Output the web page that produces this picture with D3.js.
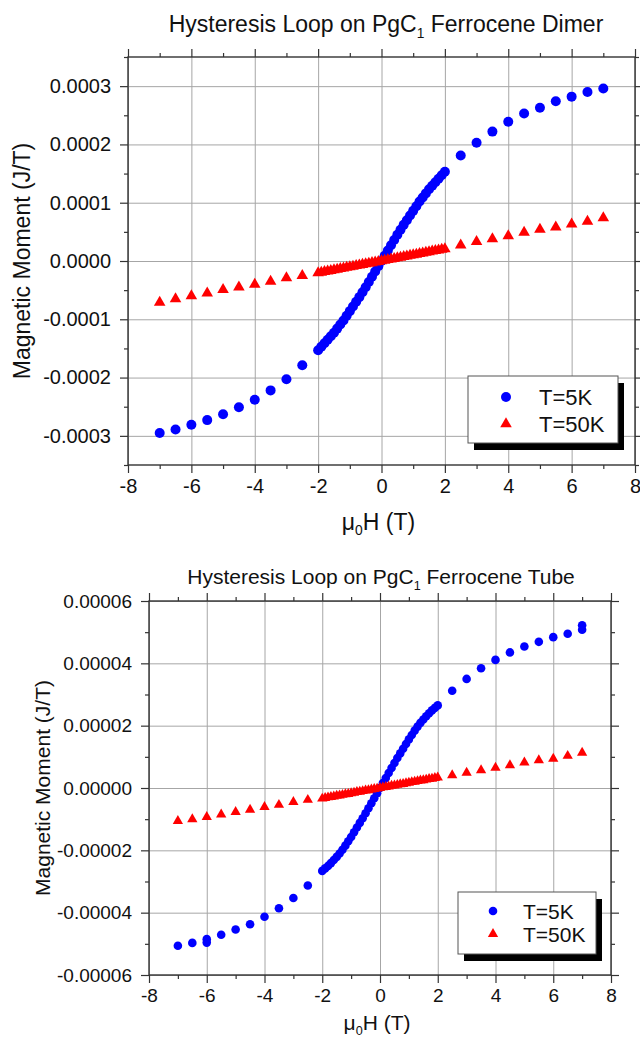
<!DOCTYPE html>
<html lang="en">
<head>
<meta charset="UTF-8" />
<title>Hysteresis Loops</title>
<script src="https://cdn.jsdelivr.net/npm/d3@7"></script>
<style>
  body { margin: 0; background: #fff; }
  svg text { font-family: "Liberation Sans", Arial, sans-serif; fill: #111; }
</style>
</head>
<body>
<script>
  // applied field values (T)
  const fieldSparseNeg = [-7, -6.5, -6, -5.5, -5, -4.5, -4, -3.5, -3, -2.5];
  const fieldDense = [-2, -1.9, -1.8, -1.7, -1.6, -1.5, -1.4, -1.3, -1.2, -1.1, -1, -0.9, -0.8, -0.7, -0.6, -0.5, -0.4, -0.3, -0.2, -0.1,
                      0, 0.1, 0.2, 0.3, 0.4, 0.5, 0.6, 0.7, 0.8, 0.9, 1, 1.1, 1.2, 1.3, 1.4, 1.5, 1.6, 1.7, 1.8, 1.9, 2];
  const fieldSparsePos = [2.5, 3, 3.5, 4, 4.5, 5, 5.5, 6, 6.5, 7];
  // the tube 5K run has two readings at -6 T and at 7 T
  const tubeField5KNeg = [-7, -6.5, -6, -6, -5.5, -5, -4.5, -4, -3.5, -3, -2.5];
  const tubeField5KPos = [2.5, 3, 3.5, 4, 4.5, 5, 5.5, 6, 6.5, 7, 7];

  // dimer, moment in units of 1e-4 J/T
  const dimer5KNeg = [-2.95, -2.89, -2.81, -2.73, -2.63, -2.51, -2.38, -2.22, -2.03, -1.79];
  const dimer5KDense = [-1.53, -1.47, -1.41, -1.35, -1.29, -1.23, -1.16, -1.09, -1.02, -0.94, -0.86, -0.78, -0.70, -0.62, -0.535, -0.45, -0.36, -0.27, -0.18, -0.09,
                        0, 0.09, 0.18, 0.27, 0.36, 0.45, 0.535, 0.62, 0.70, 0.78, 0.86, 0.94, 1.02, 1.09, 1.16, 1.23, 1.29, 1.35, 1.41, 1.47, 1.53];
  const dimer5KPos = [1.81, 2.03, 2.22, 2.39, 2.53, 2.63, 2.74, 2.82, 2.90, 2.96];

  const dimer50KNeg = [-0.71, -0.65, -0.60, -0.55, -0.49, -0.45, -0.40, -0.35, -0.29, -0.25];
  const dimer50KDense = [-0.205, -0.195, -0.184, -0.174, -0.164, -0.153, -0.143, -0.133, -0.122, -0.112, -0.102, -0.092, -0.082, -0.071, -0.061, -0.051, -0.041, -0.031, -0.020, -0.010,
                         0, 0.010, 0.021, 0.031, 0.041, 0.052, 0.062, 0.073, 0.083, 0.094, 0.104, 0.114, 0.125, 0.135, 0.146, 0.156, 0.167, 0.177, 0.187, 0.198, 0.208];
  const dimer50KPos = [0.27, 0.33, 0.38, 0.43, 0.49, 0.54, 0.58, 0.63, 0.68, 0.74];

  // tube, moment in units of 1e-5 J/T
  const tube5KNeg = [-5.06, -4.97, -4.85, -4.96, -4.71, -4.54, -4.37, -4.13, -3.86, -3.53, -3.13];
  const tube5KDense = [-2.66, -2.58, -2.50, -2.41, -2.31, -2.21, -2.10, -1.98, -1.85, -1.71, -1.57, -1.42, -1.27, -1.12, -0.97, -0.81, -0.65, -0.49, -0.33, -0.17,
                       0, 0.16, 0.32, 0.48, 0.64, 0.80, 0.96, 1.11, 1.26, 1.41, 1.56, 1.70, 1.84, 1.97, 2.09, 2.20, 2.30, 2.40, 2.49, 2.57, 2.65];
  const tube5KPos = [3.12, 3.50, 3.84, 4.11, 4.35, 4.54, 4.69, 4.84, 4.95, 5.08, 5.22];

  const tube50KNeg = [-1.06, -1.00, -0.93, -0.85, -0.77, -0.70, -0.61, -0.54, -0.45, -0.38];
  const tube50KDense = [-0.34, -0.32, -0.30, -0.29, -0.27, -0.25, -0.24, -0.22, -0.20, -0.19, -0.17, -0.15, -0.13, -0.12, -0.10, -0.08, -0.07, -0.05, -0.03, -0.02,
                        0, 0.02, 0.03, 0.05, 0.07, 0.08, 0.10, 0.12, 0.13, 0.15, 0.17, 0.19, 0.20, 0.22, 0.24, 0.25, 0.27, 0.29, 0.30, 0.32, 0.34];
  const tube50KPos = [0.41, 0.49, 0.57, 0.65, 0.73, 0.82, 0.89, 0.94, 1.03, 1.13];

  // axis ticks
  const xTicks = [-8, -6, -4, -2, 0, 2, 4, 6, 8];
  const xMinor = [-7, -5, -3, -1, 1, 3, 5, 7];
  const dimerYTicks = [-0.0003, -0.0002, -0.0001, 0, 0.0001, 0.0002, 0.0003];
  const dimerYMinor = [-0.00035, -0.00025, -0.00015, -0.00005, 0.00005, 0.00015, 0.00025, 0.00035];
  const tubeYTicks = [-0.00006, -0.00004, -0.00002, 0, 0.00002, 0.00004, 0.00006];
  const tubeYMinor = [-0.00005, -0.00003, -0.00001, 0.00001, 0.00003, 0.00005];
  const legendLabels = ['T=5K', 'T=50K'];

  // plain hyphen for negative numbers, as in the original
  const locale = d3.formatLocale({ decimal: '.', thousands: ',', grouping: [3], currency: ['', ''], minus: '-' });

  const width = 640, height = 1041;
  const svg = d3.select('body').append('svg')
    .attr('width', width)
    .attr('height', height);

  svg.append('rect').attr('width', width).attr('height', height).attr('fill', '#fff');

  function toPoints(xs, ys, unit) {
    return xs.map((x, i) => ({ x: x, y: ys[i] * unit }));
  }

  const panels = [
    {
      title: 'Ferrocene Dimer',
      titleX: 386, titleY: 32, titleSize: 23,
      left: 128, right: 635, top: 57, bottom: 465,
      yDomain: [-0.00035, 0.00035],
      yTicks: dimerYTicks, yMinor: dimerYMinor, yFormat: locale.format('.4f'),
      fontSize: 20, labelSize: 23, yLabelX: 30, xLabelY: 530,
      r: 5, tri: 58,
      series: [
        toPoints([...fieldSparseNeg, ...fieldDense, ...fieldSparsePos], [...dimer5KNeg, ...dimer5KDense, ...dimer5KPos], 1e-4),
        toPoints([...fieldSparseNeg, ...fieldDense, ...fieldSparsePos], [...dimer50KNeg, ...dimer50KDense, ...dimer50KPos], 1e-4)
      ],
      legend: { x: 468, y: 376, w: 150, h: 67, sx: 506, tx: 539, row1: 397, row2: 424, size: 22 }
    },
    {
      title: 'Ferrocene Tube',
      titleX: 381, titleY: 584, titleSize: 21,
      left: 149, right: 611, top: 601, bottom: 975,
      yDomain: [-0.00006, 0.00006],
      yTicks: tubeYTicks, yMinor: tubeYMinor, yFormat: locale.format('.5f'),
      fontSize: 19, labelSize: 21, yLabelX: 50, xLabelY: 1030,
      r: 4.3, tri: 46,
      series: [
        toPoints([...tubeField5KNeg, ...fieldDense, ...tubeField5KPos], [...tube5KNeg, ...tube5KDense, ...tube5KPos], 1e-5),
        toPoints([...fieldSparseNeg, ...fieldDense, ...fieldSparsePos], [...tube50KNeg, ...tube50KDense, ...tube50KPos], 1e-5)
      ],
      legend: { x: 458, y: 892, w: 138, h: 62, sx: 493, tx: 523, row1: 911, row2: 934, size: 21 }
    }
  ];

  const colors = ['#0000ff', '#ff0000'];

  panels.forEach(p => {
    const x = d3.scaleLinear().domain([-8, 8]).range([p.left, p.right]);
    const y = d3.scaleLinear().domain(p.yDomain).range([p.bottom, p.top]);
    const g = svg.append('g');

    // title with subscript 1
    const title = g.append('text')
      .attr('x', p.titleX).attr('y', p.titleY)
      .attr('text-anchor', 'middle')
      .attr('font-size', p.titleSize);
    title.append('tspan').text('Hysteresis Loop on PgC');
    title.append('tspan').attr('font-size', p.titleSize * 0.6).attr('dy', 6).text('1');
    title.append('tspan').attr('dy', -6).text(' ' + p.title);

    // grid
    g.append('g')
      .attr('transform', `translate(0,${p.bottom})`)
      .call(d3.axisBottom(x).tickValues(xTicks).tickSize(-(p.bottom - p.top)).tickFormat(''))
      .call(a => a.select('.domain').remove())
      .selectAll('line').attr('stroke', '#a6a6a6');
    g.append('g')
      .attr('transform', `translate(${p.left},0)`)
      .call(d3.axisLeft(y).tickValues(p.yTicks).tickSize(-(p.right - p.left)).tickFormat(''))
      .call(a => a.select('.domain').remove())
      .selectAll('line').attr('stroke', '#a6a6a6');

    // ticks on four sides, outward
    const axes = [
      { ax: d3.axisBottom(x), vals: xTicks, minor: xMinor, t: `translate(0,${p.bottom})`, fmt: locale.format('d'), pad: 6 },
      { ax: d3.axisTop(x), vals: xTicks, minor: xMinor, t: `translate(0,${p.top})`, fmt: null },
      { ax: d3.axisLeft(y), vals: p.yTicks, minor: p.yMinor, t: `translate(${p.left},0)`, fmt: p.yFormat, pad: 9 },
      { ax: d3.axisRight(y), vals: p.yTicks, minor: p.yMinor, t: `translate(${p.right},0)`, fmt: null }
    ];
    axes.forEach(a => {
      const major = g.append('g').attr('transform', a.t)
        .call(a.ax.tickValues(a.vals).tickSize(8).tickPadding(a.pad || 4)
          .tickFormat(a.fmt ? a.fmt : ''));
      major.select('.domain').remove();
      major.selectAll('line').attr('stroke', '#333').attr('stroke-width', 1.2);
      major.selectAll('text')
        .attr('font-size', p.fontSize)
        .attr('font-family', '"Liberation Sans", Arial, sans-serif')
        .attr('fill', '#111');
      const minor = g.append('g').attr('transform', a.t)
        .call(a.ax.tickValues(a.minor).tickSize(4).tickFormat(''));
      minor.select('.domain').remove();
      minor.selectAll('line').attr('stroke', '#333').attr('stroke-width', 1.2);
    });

    // frame
    g.append('rect')
      .attr('x', p.left).attr('y', p.top)
      .attr('width', p.right - p.left).attr('height', p.bottom - p.top)
      .attr('fill', 'none').attr('stroke', '#333').attr('stroke-width', 1.4);

    // points
    const symbols = [d3.symbol().type(d3.symbolCircle).size(Math.PI * p.r * p.r),
                     d3.symbol().type(d3.symbolTriangle).size(p.tri)];
    p.series.forEach((pts, i) => {
      g.append('g').selectAll('path')
        .data(pts)
        .join('path')
        .attr('d', symbols[i])
        .attr('transform', d => `translate(${x(d.x)},${y(d.y)})`)
        .attr('fill', colors[i]);
    });

    // axis labels
    const xl = g.append('text')
      .attr('x', (p.left + p.right) / 2 - 3).attr('y', p.xLabelY)
      .attr('text-anchor', 'middle')
      .attr('font-size', p.labelSize);
    xl.append('tspan').text('\u03bc');
    xl.append('tspan').attr('font-size', p.labelSize * 0.6).attr('dy', 5).text('0');
    xl.append('tspan').attr('dy', -5).text('H (T)');

    g.append('text')
      .attr('transform', `translate(${p.yLabelX},${(p.top + p.bottom) / 2}) rotate(-90)`)
      .attr('text-anchor', 'middle')
      .attr('font-size', p.labelSize)
      .text('Magnetic Moment (J/T)');

    // legend with drop shadow
    const L = p.legend;
    g.append('rect')
      .attr('x', L.x + 6).attr('y', L.y + 7).attr('width', L.w).attr('height', L.h)
      .attr('fill', '#000');
    g.append('rect')
      .attr('x', L.x).attr('y', L.y).attr('width', L.w).attr('height', L.h)
      .attr('fill', '#fff').attr('stroke', '#555').attr('stroke-width', 1);
    [L.row1, L.row2].forEach((ry, i) => {
      g.append('path')
        .attr('d', symbols[i])
        .attr('transform', `translate(${L.sx},${ry})`)
        .attr('fill', colors[i]);
      g.append('text')
        .attr('x', L.tx).attr('y', ry)
        .attr('dy', '0.36em')
        .attr('font-size', L.size)
        .text(legendLabels[i]);
    });
  });
</script>
</body>
</html>
